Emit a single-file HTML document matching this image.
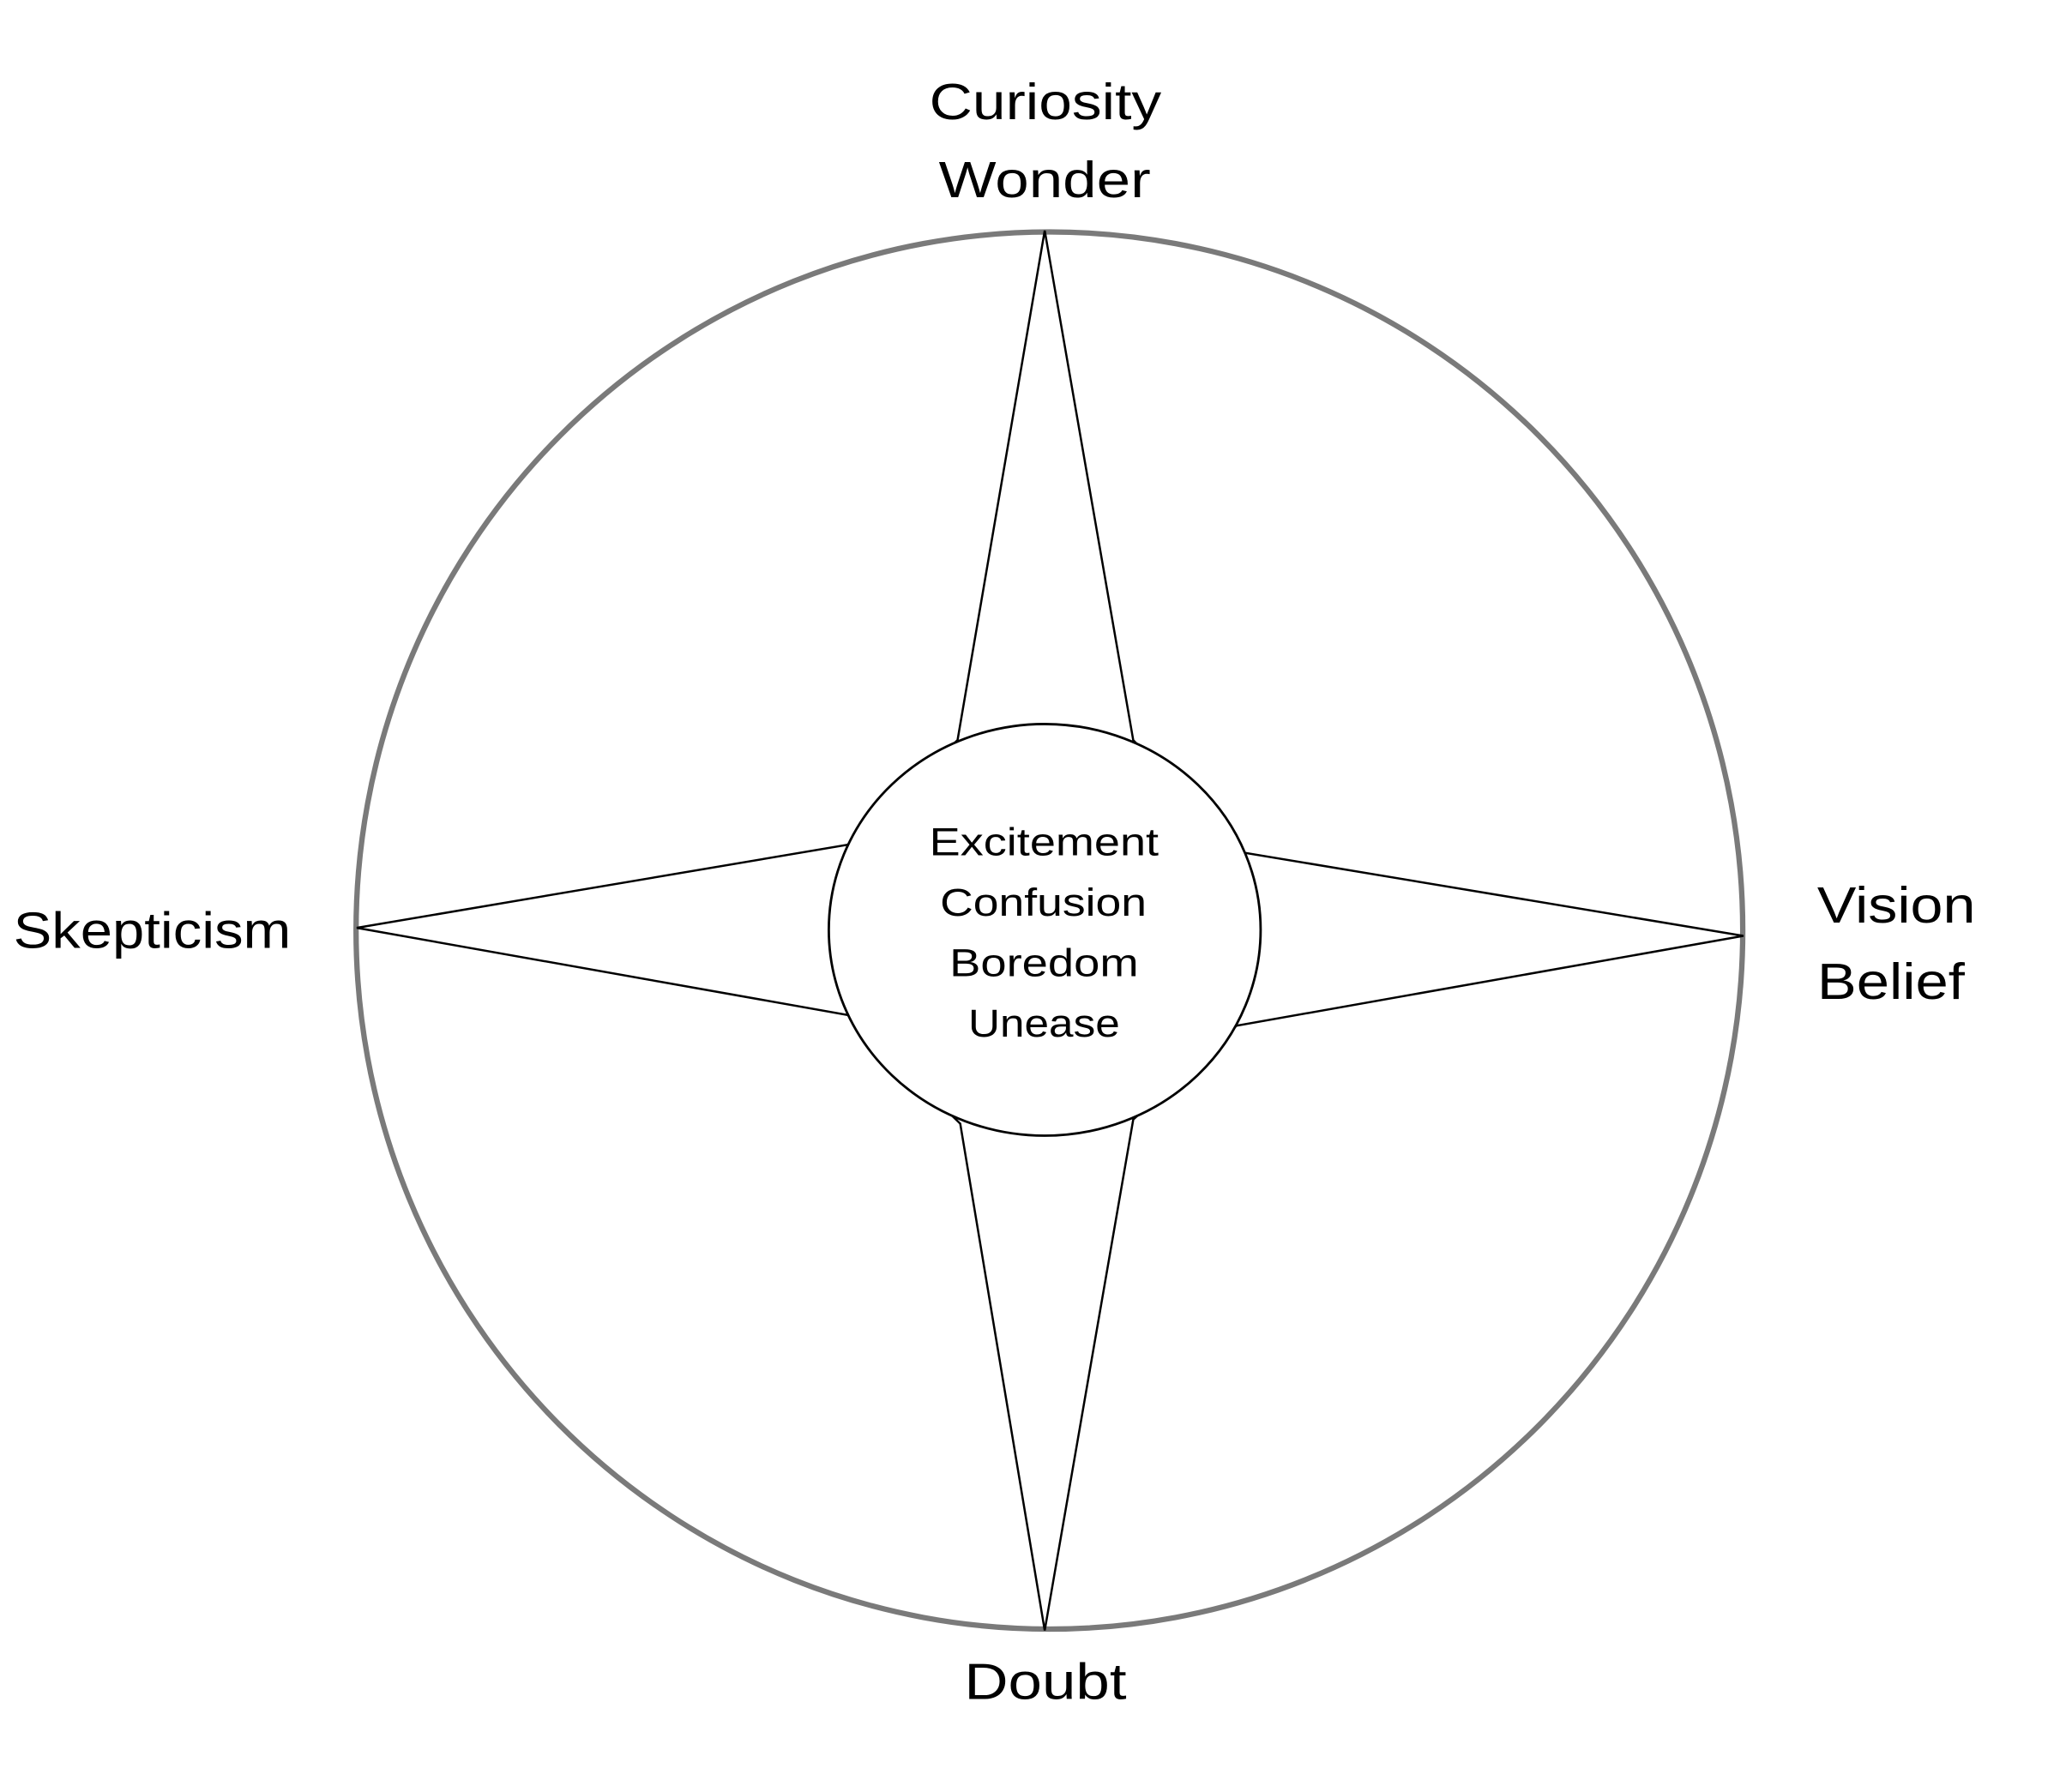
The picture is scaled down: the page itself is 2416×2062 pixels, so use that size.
<!DOCTYPE html>
<html><head><meta charset="utf-8"><style>
html,body{margin:0;padding:0;background:#fff;}
svg{display:block;}
text{font-family:"Liberation Sans",sans-serif;fill:#000;}
</style></head><body>
<svg width="2416" height="2062" viewBox="0 0 1545 1318.6" preserveAspectRatio="none" xmlns="http://www.w3.org/2000/svg">
<rect width="1545" height="1318.6" fill="#fff"/>
<ellipse cx="782.5" cy="694" rx="517" ry="521" fill="none" stroke="#7a7a7a" stroke-width="4"/>
<polygon points="779,172 845,552 928,636 1300,698 922,765 845,835 779,1216 716,838 632,757 266,692 632,630 714,552" fill="#fff" stroke="#000" stroke-width="1.6" stroke-linejoin="miter"/>
<ellipse cx="779" cy="693.5" rx="161" ry="153.5" fill="#fff" stroke="#000" stroke-width="1.8"/>
<g font-size="38">
<text x="693" y="89" textLength="173" lengthAdjust="spacingAndGlyphs">Curiosity</text>
<text x="700" y="147" textLength="158" lengthAdjust="spacingAndGlyphs">Wonder</text>
<text x="10" y="707" textLength="207" lengthAdjust="spacingAndGlyphs">Skepticism</text>
<text x="1355" y="688" textLength="118" lengthAdjust="spacingAndGlyphs">Vision</text>
<text x="1355" y="745" textLength="110" lengthAdjust="spacingAndGlyphs">Belief</text>
<text x="719" y="1267" textLength="121" lengthAdjust="spacingAndGlyphs">Doubt</text>
</g>
<g font-size="29">
<text x="693" y="638" textLength="171" lengthAdjust="spacingAndGlyphs">Excitement</text>
<text x="701" y="683" textLength="154" lengthAdjust="spacingAndGlyphs">Confusion</text>
<text x="708" y="728" textLength="141" lengthAdjust="spacingAndGlyphs">Boredom</text>
<text x="722" y="773" textLength="113" lengthAdjust="spacingAndGlyphs">Unease</text>
</g>
</svg>
</body></html>
